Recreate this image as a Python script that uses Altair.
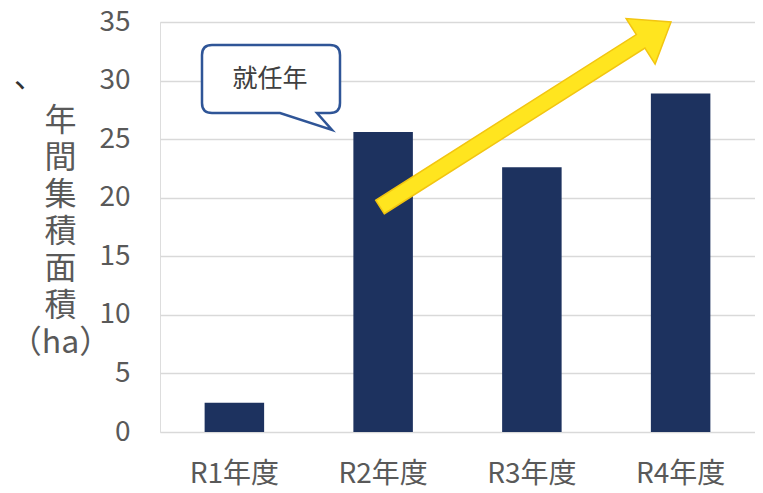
import altair as alt
import pandas as pd
import math

# ---- data ----
years = ["R1年度", "R2年度", "R3年度", "R4年度"]
area = [2.5, 25.6, 22.6, 28.9]
y_ticks = [0, 5, 10, 15, 20, 25, 30, 35]
y_title = ["年", "間", "集", "積", "面", "積", "（ha）"]
callout_text = ["就任年"]
margin_text = ["、"]

df = pd.DataFrame({"year": years, "area": area})

FONT = "Noto Sans CJK JP"
GRAY = "#595959"
W, H = 595, 410


def path_from(points_cmds, r):
    out = []
    for cmd in points_cmds:
        c = cmd[0]
        nums = cmd[1:]
        s = " ".join(f"{v / r:.4f}" for v in nums)
        out.append(f"{c}{s}")
    return " ".join(out) + " Z"


# callout (pixel offsets relative to its centre)
rc = 70.0
callout_cmds = [
    ("M", -59, -34), ("L", 59, -34), ("Q", 69, -34, 69, -24), ("L", 69, 24),
    ("Q", 69, 34, 59, 34), ("L", 46, 34), ("L", 61, 51), ("L", 9, 34),
    ("L", -59, 34), ("Q", -69, 34, -69, 24), ("L", -69, -24),
    ("Q", -69, -34, -59, -34),
]
callout_path = path_from(callout_cmds, rc)

# arrow (pixel offsets relative to its centre)
tail = (220.0, 185.0)
tip = (511.0, 0.0)
cx, cy = (tail[0] + tip[0]) / 2, (tail[1] + tip[1]) / 2
dx, dy = tip[0] - tail[0], tip[1] - tail[1]
L = math.hypot(dx, dy)
ux, uy = dx / L, dy / L
nx, ny = -uy, ux
hw, hh, hl = 8.0, 27.0, 36.0
T = (tail[0] - cx, tail[1] - cy)
P = (tip[0] - cx, tip[1] - cy)
B = (P[0] - hl * ux, P[1] - hl * uy)
pts = [
    (T[0] + hw * nx, T[1] + hw * ny),
    (B[0] + hw * nx, B[1] + hw * ny),
    (B[0] + hh * nx, B[1] + hh * ny),
    P,
    (B[0] - hh * nx, B[1] - hh * ny),
    (B[0] - hw * nx, B[1] - hw * ny),
    (T[0] - hw * nx, T[1] - hw * ny),
]
ra = 190.0
arrow_cmds = [("M",) + pts[0]] + [("L",) + p for p in pts[1:]]
arrow_path = path_from(arrow_cmds, ra)

base = alt.Chart(df)

bars = base.mark_bar(color="#1d325f").encode(
    x=alt.X(
        "year:N",
        sort=years,
        scale=alt.Scale(paddingInner=0.6, paddingOuter=0.3),
        axis=alt.Axis(
            title=None, labelAngle=0, labelFontSize=28, labelFont=FONT,
            labelColor=GRAY, labelPadding=28, ticks=False, domain=False,
            grid=False,
        ),
    ),
    y=alt.Y(
        "area:Q",
        scale=alt.Scale(domain=[0, 35], nice=False),
        axis=alt.Axis(
            values=y_ticks, title=y_title, titleAngle=0, titleFont=FONT,
            titleFontSize=32, titleFontWeight="normal", titleColor=GRAY,
            titleLineHeight=37, titleAlign="center", titleBaseline="top",
            titleX=-100, titleY=83, labelFontSize=28, labelFont=FONT,
            labelColor=GRAY, labelPadding=30, ticks=False, domain=False,
            grid=True, gridColor="#d9d9d9", gridWidth=1.5,
        ),
    ),
)

callout_box = alt.Chart(pd.DataFrame({"t": callout_text})).mark_point(
    shape=callout_path, filled=True, fill="white", stroke="#2f5597",
    strokeWidth=2.5, size=(2 * rc) ** 2, opacity=1,
).encode(x=alt.value(111), y=alt.value(57))

callout_lbl = alt.Chart(pd.DataFrame({"t": callout_text})).mark_text(
    font=FONT, fontSize=25, color="#404040", align="center", baseline="middle",
).encode(text="t:N", x=alt.value(110), y=alt.value(57))

arrow = alt.Chart(pd.DataFrame({"t": ["arrow"]})).mark_point(
    shape=arrow_path, filled=True, fill="#ffe51f", stroke="#f2c511",
    strokeWidth=1.5, size=(2 * ra) ** 2, opacity=1,
).encode(x=alt.value(cx), y=alt.value(cy))

margin = alt.Chart(pd.DataFrame({"t": margin_text})).mark_text(
    font=FONT, fontSize=30, color="#333333", align="left", baseline="top",
).encode(text="t:N", x=alt.value(-146), y=alt.value(41))

chart = alt.layer(bars, callout_box, callout_lbl, arrow, margin).properties(
    width=W, height=H,
    autosize=alt.AutoSizeParams(type="none"),
    padding={"left": 152, "top": 14, "right": 0, "bottom": 57},
).configure_view(stroke=None).configure(background="white")

chart.save("out.html", embed_options={"renderer": "svg", "actions": False})
